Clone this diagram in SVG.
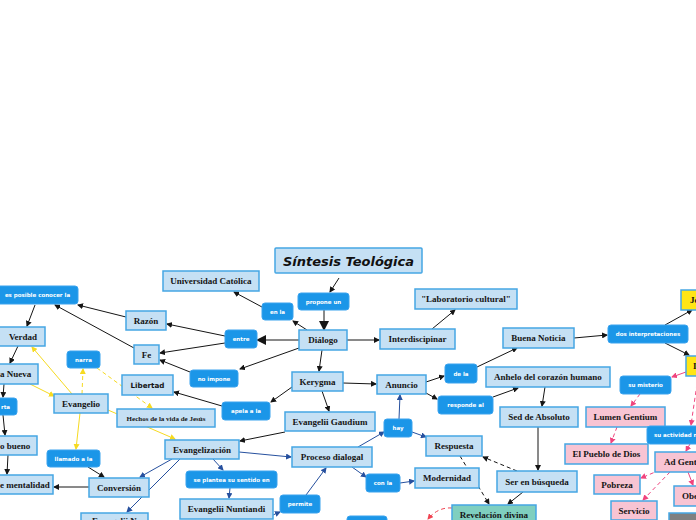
<svg xmlns="http://www.w3.org/2000/svg" width="696" height="520" viewBox="0 0 696 520">
<style>
.box{fill:#c5e0f4;stroke:#45a6e4;stroke-width:1.5}
.pink{fill:#f8c4d3;stroke:#45a6e4;stroke-width:1.5}
.yel{fill:#ffe516;stroke:#45a6e4;stroke-width:1.5}
.teal{fill:#7fcfbf;stroke:#45a6e4;stroke-width:1.5}
.grey{fill:#808080;stroke:#45a6e4;stroke-width:1.5}
.pill{fill:#1b96e8;stroke:#3ba3ee;stroke-width:1}
.t{font-family:'Liberation Serif',serif;font-weight:bold;font-size:9px;fill:#151515;text-anchor:middle}
.pt{font-family:'DejaVu Sans',sans-serif;font-weight:bold;font-size:5.5px;fill:#fff;text-anchor:middle}
.k{stroke:#151515;stroke-width:1;fill:none}
.b{stroke:#26509e;stroke-width:1;fill:none}
.y{stroke:#f6da20;stroke-width:1;fill:none}
.p{stroke:#f0447e;stroke-width:1;fill:none}
.r{stroke:#f04452;stroke-width:1;fill:none}
.d{stroke-dasharray:4 3}
</style>
<defs>
<marker id="ak" markerWidth="6" markerHeight="6" refX="5" refY="3" orient="auto" markerUnits="userSpaceOnUse"><path d="M0,0L6,3L0,6z" fill="#151515"/></marker>
<marker id="ab" markerWidth="6" markerHeight="6" refX="5" refY="3" orient="auto" markerUnits="userSpaceOnUse"><path d="M0,0L6,3L0,6z" fill="#26509e"/></marker>
<marker id="ay" markerWidth="6" markerHeight="6" refX="5" refY="3" orient="auto" markerUnits="userSpaceOnUse"><path d="M0,0L6,3L0,6z" fill="#f6da20"/></marker>
<marker id="ap" markerWidth="6" markerHeight="6" refX="5" refY="3" orient="auto" markerUnits="userSpaceOnUse"><path d="M0,0L6,3L0,6z" fill="#f0447e"/></marker>
<marker id="ar" markerWidth="6" markerHeight="6" refX="5" refY="3" orient="auto" markerUnits="userSpaceOnUse"><path d="M0,0L6,3L0,6z" fill="#f04452"/></marker>
<marker id="ak2" markerWidth="10" markerHeight="10" refX="8" refY="5" orient="auto" markerUnits="userSpaceOnUse"><path d="M0,0L10,5L0,10z" fill="#151515"/></marker>
</defs>
<rect width="696" height="520" fill="#fff"/>
<g id="connectors">
<line class="k" x1="339" y1="278" x2="330" y2="292" marker-end="url(#ak)"/>
<line class="k" x1="324" y1="310" x2="324" y2="329" stroke-width="2.5" marker-end="url(#ak2)"/>
<line class="k" x1="307" y1="330" x2="293" y2="321" marker-end="url(#ak)"/>
<line class="k" x1="262" y1="307" x2="234" y2="292" marker-end="url(#ak)"/>
<line class="k" x1="299" y1="340" x2="258" y2="340" stroke-width="2" marker-end="url(#ak2)"/>
<line class="k" x1="225" y1="336" x2="167" y2="324" marker-end="url(#ak)"/>
<line class="k" x1="225" y1="343" x2="160" y2="353" marker-end="url(#ak)"/>
<line class="k" x1="299" y1="348" x2="240" y2="369" marker-end="url(#ak)"/>
<line class="k" x1="190" y1="372" x2="160" y2="360" marker-end="url(#ak)"/>
<line class="k" x1="222" y1="406" x2="174" y2="392" marker-end="url(#ak)"/>
<line class="k" x1="134" y1="348" x2="55" y2="305" marker-end="url(#ak)"/>
<line class="k" x1="126" y1="317" x2="78" y2="305" marker-end="url(#ak)"/>
<line class="k" x1="35" y1="305" x2="27" y2="326" marker-end="url(#ak)"/>
<line class="k" x1="18" y1="346" x2="10" y2="363" marker-end="url(#ak)"/>
<line class="k" x1="4" y1="384" x2="3" y2="397" marker-end="url(#ak)"/>
<line class="k" x1="3" y1="415" x2="5" y2="435" marker-end="url(#ak)"/>
<line class="k" x1="8" y1="455" x2="7" y2="474" marker-end="url(#ak)"/>
<line class="k" x1="89" y1="487" x2="54" y2="487" marker-end="url(#ak)"/>
<line class="k" x1="88" y1="467" x2="104" y2="477" marker-end="url(#ak)"/>
<line class="y" x1="80" y1="413" x2="76" y2="449" marker-end="url(#ay)"/>
<line class="y d" x1="82" y1="394" x2="83" y2="369" marker-end="url(#ay)"/>
<line class="y d" x1="97" y1="368" x2="152" y2="408" marker-end="url(#ay)"/>
<line class="y" x1="72" y1="394" x2="32" y2="347" marker-end="url(#ay)"/>
<line class="y" x1="30" y1="384" x2="54" y2="396" marker-end="url(#ay)"/>
<line class="y" x1="108" y1="410" x2="175" y2="439" marker-end="url(#ay)"/>
<line class="b" x1="172" y1="459" x2="140" y2="477" marker-end="url(#ab)"/>
<line class="b" x1="180" y1="459" x2="127" y2="512" marker-end="url(#ab)"/>
<line class="b" x1="239" y1="452" x2="291" y2="457" marker-end="url(#ab)"/>
<line class="b" x1="213" y1="459" x2="223" y2="470" marker-end="url(#ab)"/>
<line class="b" x1="230" y1="488" x2="229" y2="498" marker-end="url(#ab)"/>
<line class="b" x1="273" y1="515" x2="280" y2="512" marker-end="url(#ab)"/>
<line class="b" x1="306" y1="495" x2="326" y2="468" marker-end="url(#ab)"/>
<line class="b" x1="358" y1="447" x2="384" y2="432" marker-end="url(#ab)"/>
<line class="b" x1="399" y1="419" x2="400" y2="395" marker-end="url(#ab)"/>
<line class="b" x1="412" y1="432" x2="426" y2="437" marker-end="url(#ab)"/>
<line class="b" x1="352" y1="467" x2="366" y2="477" marker-end="url(#ab)"/>
<line class="b" x1="400" y1="483" x2="414" y2="481" marker-end="url(#ab)"/>
<line class="k" x1="343" y1="383" x2="376" y2="384" marker-end="url(#ak)"/>
<line class="k" x1="322" y1="350" x2="319" y2="371" marker-end="url(#ak)"/>
<line class="k" x1="292" y1="387" x2="271" y2="402" marker-end="url(#ak)"/>
<line class="k" x1="322" y1="391" x2="329" y2="411" marker-end="url(#ak)"/>
<line class="k" x1="285" y1="432" x2="240" y2="441" marker-end="url(#ak)"/>
<line class="k" x1="347" y1="340" x2="379" y2="340" marker-end="url(#ak)"/>
<line class="k" x1="432" y1="329" x2="455" y2="310" marker-end="url(#ak)"/>
<line class="k" x1="426" y1="382" x2="444" y2="376" marker-end="url(#ak)"/>
<line class="k" x1="477" y1="367" x2="517" y2="348" marker-end="url(#ak)"/>
<line class="k" x1="426" y1="393" x2="437" y2="399" marker-end="url(#ak)"/>
<line class="k" x1="493" y1="397" x2="518" y2="388" marker-end="url(#ak)"/>
<line class="k" x1="545" y1="387" x2="542" y2="406" marker-end="url(#ak)"/>
<line class="k" x1="538" y1="427" x2="538" y2="470" marker-end="url(#ak)"/>
<line class="k d" x1="517" y1="471" x2="483" y2="457" marker-end="url(#ak)"/>
<line class="k d" x1="460" y1="456" x2="489" y2="504" marker-end="url(#ak)"/>
<line class="k" x1="523" y1="492" x2="508" y2="504" marker-end="url(#ak)"/>
<path class="r d" d="M452,508 Q438,507 428,519" marker-end="url(#ar)"/>
<line class="k" x1="574" y1="338" x2="607" y2="335" marker-end="url(#ak)"/>
<line class="k" x1="665" y1="325" x2="692" y2="310" marker-end="url(#ak)"/>
<line class="k" x1="665" y1="343" x2="689" y2="355" marker-end="url(#ak)"/>
<line class="p" x1="686" y1="372" x2="672" y2="377" marker-end="url(#ap)"/>
<line class="p d" x1="640" y1="394" x2="631" y2="406" marker-end="url(#ap)"/>
<line class="p d" x1="617" y1="427" x2="611" y2="443" marker-end="url(#ap)"/>
<line class="p d" x1="697" y1="384" x2="691" y2="425" marker-end="url(#ap)"/>
<line class="p" x1="690" y1="444" x2="686" y2="451" marker-end="url(#ap)"/>
<line class="p d" x1="660" y1="470" x2="641" y2="478" marker-end="url(#ap)"/>
<line class="p d" x1="670" y1="472" x2="643" y2="500" marker-end="url(#ap)"/>
<line class="p" x1="688" y1="472" x2="693" y2="485" marker-end="url(#ap)"/>
</g>
<g id="n-titulo"><rect class="box" x="275" y="248" width="147" height="25" rx="1"/><text x="348.5" y="265.5" style="font-family:'DejaVu Sans',sans-serif;font-weight:bold;font-style:italic;font-size:13px;fill:#111;text-anchor:middle">Síntesis Teológica</text></g>
<g id="n-propone"><rect class="pill" x="298" y="293" width="51" height="17" rx="3"/><text class="pt" x="323.5" y="303.5">propone un</text></g>
<g id="n-univ"><rect class="box" x="163" y="271" width="96" height="20"/><text class="t" x="211" y="284">Universidad Católica</text></g>
<g id="n-enla"><rect class="pill" x="262" y="303" width="31" height="17" rx="3"/><text class="pt" x="277.5" y="313.5">en la</text></g>
<g id="n-dialogo"><rect class="box" x="299" y="330" width="48" height="20"/><text class="t" x="323" y="343">Diálogo</text></g>
<g id="n-entre"><rect class="pill" x="225" y="330" width="32" height="18" rx="3"/><text class="pt" x="241" y="341">entre</text></g>
<g id="n-razon"><rect class="box" x="126" y="311" width="40" height="19"/><text class="t" x="146" y="323.5">Razón</text></g>
<g id="n-fe"><rect class="box" x="134" y="345" width="25" height="19"/><text class="t" x="146.5" y="357.5">Fe</text></g>
<g id="n-posible"><rect class="pill" x="-4" y="286" width="82" height="18" rx="3"/><text class="pt" x="37.5" y="297">es posible conocer la</text></g>
<g id="n-verdad"><rect class="box" x="-2" y="327" width="47" height="19"/><text class="t" x="23" y="339.5">Verdad</text></g>
<g id="n-nueva"><rect class="box" x="-40" y="364" width="78" height="20"/><text class="t" x="0" y="377" style="text-anchor:start">a Nueva</text></g>
<g id="n-rta"><rect class="pill" x="-20" y="398" width="37" height="17" rx="3"/><text class="pt" x="10" y="408.5" style="text-anchor:end">rta</text></g>
<g id="n-bueno"><rect class="box" x="-20" y="436" width="57" height="19"/><text class="t" x="0" y="448.5" style="text-anchor:start">o bueno</text></g>
<g id="n-mentalidad"><rect class="box" x="-20" y="475" width="73" height="19"/><text class="t" x="0" y="487.5" style="text-anchor:start">e mentalidad</text></g>
<g id="n-narra"><rect class="pill" x="67" y="351" width="33" height="17" rx="3"/><text class="pt" x="83.5" y="361.5">narra</text></g>
<g id="n-evangelio"><rect class="box" x="54" y="394" width="54" height="19"/><text class="t" x="81" y="406.5">Evangelio</text></g>
<g id="n-libertad"><rect class="box" x="122" y="375" width="51" height="20"/><text x="147.5" y="388" style="font-family:'DejaVu Sans',sans-serif;font-weight:bold;font-size:7.2px;fill:#151515;text-anchor:middle">Libertad</text></g>
<g id="n-noimpone"><rect class="pill" x="190" y="370" width="48" height="17" rx="3"/><text class="pt" x="214" y="380.5">no impone</text></g>
<g id="n-hechos"><rect class="box" x="117" y="409" width="98" height="18"/><text class="t" x="166" y="420.5" style="font-size:7px">Hechos de la vida de Jesús</text></g>
<g id="n-apela"><rect class="pill" x="222" y="402" width="48" height="18" rx="3"/><text class="pt" x="246" y="413">apela a la</text></g>
<g id="n-kerygma"><rect class="box" x="292" y="372" width="51" height="19"/><text class="t" x="317.5" y="384.5">Kerygma</text></g>
<g id="n-gaudium"><rect class="box" x="285" y="412" width="90" height="19"/><text class="t" x="330" y="424.5">Evangelii Gaudium</text></g>
<g id="n-evangelizacion"><rect class="box" x="165" y="440" width="74" height="19"/><text class="t" x="202" y="452.5">Evangelización</text></g>
<g id="n-llamado"><rect class="pill" x="47" y="450" width="53" height="17" rx="3"/><text class="pt" x="73.5" y="460.5">llamado a la</text></g>
<g id="n-conversion"><rect class="box" x="89" y="478" width="60" height="19"/><text class="t" x="119" y="490.5">Conversión</text></g>
<g id="n-bottomleft"><rect class="box" x="81" y="513" width="67" height="20"/><text class="t" x="114.5" y="524">Evangelii N</text></g>
<g id="n-seplantea"><rect class="pill" x="186" y="471" width="91" height="17" rx="3"/><text class="pt" x="231.5" y="481.5">se plantea su sentido en</text></g>
<g id="n-nuntiandi"><rect class="box" x="180" y="499" width="93" height="20"/><text class="t" x="226.5" y="512">Evangelii Nuntiandi</text></g>
<g id="n-permite"><rect class="pill" x="280" y="495" width="40" height="18" rx="3"/><text class="pt" x="300" y="506">permite</text></g>
<g id="n-proceso"><rect class="box" x="292" y="447" width="80" height="20"/><text class="t" x="332" y="460">Proceso dialogal</text></g>
<g id="n-hay"><rect class="pill" x="384" y="419" width="28" height="18" rx="3"/><text class="pt" x="398" y="430">hay</text></g>
<g id="n-anuncio"><rect class="box" x="377" y="375" width="49" height="19"/><text class="t" x="401.5" y="387.5">Anuncio</text></g>
<g id="n-conla"><rect class="pill" x="366" y="474" width="34" height="18" rx="3"/><text class="pt" x="383" y="485">con la</text></g>
<g id="n-respuesta"><rect class="box" x="426" y="436" width="56" height="20"/><text class="t" x="454" y="449">Respuesta</text></g>
<g id="n-modernidad"><rect class="box" x="415" y="468" width="64" height="20"/><text class="t" x="447" y="481">Modernidad</text></g>
<g id="n-revelacion"><rect class="teal" x="452" y="505" width="84" height="20"/><text class="t" x="494" y="518">Revelación divina</text></g>
<g id="n-bottompill"><rect class="pill" x="347" y="516" width="40" height="12" rx="3"/></g>
<g id="n-interdis"><rect class="box" x="380" y="329" width="75" height="20"/><text class="t" x="417.5" y="342">Interdiscipinar</text></g>
<g id="n-laboratorio"><rect class="box" x="415" y="289" width="102" height="20"/><text class="t" x="466" y="302">"Laboratorio cultural"</text></g>
<g id="n-dela"><rect class="pill" x="445" y="364" width="32" height="19" rx="3"/><text class="pt" x="461" y="375.5">de la</text></g>
<g id="n-responde"><rect class="pill" x="438" y="396" width="55" height="18" rx="3"/><text class="pt" x="465.5" y="407">responde al</text></g>
<g id="n-buena"><rect class="box" x="503" y="328" width="71" height="20"/><text class="t" x="538.5" y="341">Buena Noticia</text></g>
<g id="n-anhelo"><rect class="box" x="486" y="367" width="124" height="20"/><text class="t" x="548" y="380">Anhelo del corazón humano</text></g>
<g id="n-sed"><rect class="box" x="500" y="407" width="78" height="20"/><text class="t" x="539" y="420">Sed de Absoluto</text></g>
<g id="n-ser"><rect class="box" x="497" y="471" width="80" height="21"/><text class="t" x="537" y="484.5">Ser en búsqueda</text></g>
<g id="n-dos"><rect class="pill" x="608" y="325" width="80" height="18" rx="3"/><text class="pt" x="648" y="336">dos interpretaciones</text></g>
<g id="n-je"><rect class="yel" x="681" y="290" width="30" height="20"/><text class="t" x="690" y="303" style="text-anchor:start">Je</text></g>
<g id="n-i"><rect class="yel" x="686" y="356" width="30" height="20"/><text class="t" x="693" y="369" style="text-anchor:start">I</text></g>
<g id="n-sumisterio"><rect class="pill" x="620" y="376" width="51" height="18" rx="3"/><text class="pt" x="645.5" y="387">su misterio</text></g>
<g id="n-lumen"><rect class="pink" x="586" y="407" width="79" height="20"/><text class="t" x="625.5" y="420">Lumen Gentium</text></g>
<g id="n-suactividad"><rect class="pill" x="647" y="426" width="60" height="18" rx="3"/><text class="pt" x="654" y="437" style="text-anchor:start">su actividad m</text></g>
<g id="n-pueblo"><rect class="pink" x="565" y="444" width="83" height="20"/><text class="t" x="606.5" y="457">El Pueblo de Dios</text></g>
<g id="n-adgentes"><rect class="pink" x="655" y="452" width="50" height="20"/><text class="t" x="664" y="465" style="text-anchor:start">Ad Gente</text></g>
<g id="n-pobreza"><rect class="pink" x="594" y="475" width="46" height="19"/><text class="t" x="617" y="487.5">Pobreza</text></g>
<g id="n-obe"><rect class="pink" x="674" y="486" width="30" height="20"/><text class="t" x="682" y="499" style="text-anchor:start">Obe</text></g>
<g id="n-servicio"><rect class="pink" x="611" y="501" width="46" height="19"/><text class="t" x="634" y="513.5">Servicio</text></g>
<g id="n-grey"><rect class="grey" x="669" y="513" width="30" height="12"/></g>
</svg>
